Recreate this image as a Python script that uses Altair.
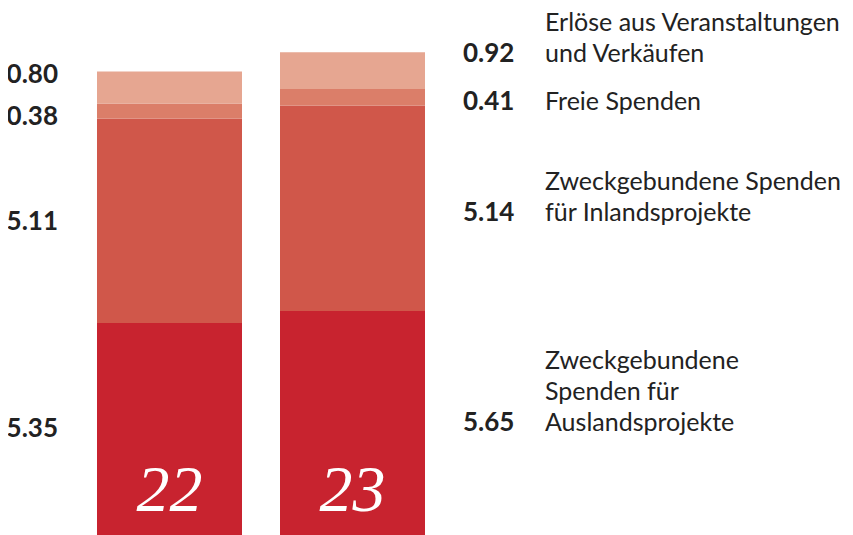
import altair as alt
import pandas as pd

years = ["22", "23"]
categories = [
    "Zweckgebundene Spenden für Auslandsprojekte",
    "Zweckgebundene Spenden für Inlandsprojekte",
    "Freie Spenden",
    "Erlöse aus Veranstaltungen und Verkäufen",
]
category_lines = [
    ["Zweckgebundene", "Spenden für", "Auslandsprojekte"],
    ["Zweckgebundene Spenden", "für Inlandsprojekte"],
    ["Freie Spenden"],
    ["Erlöse aus Veranstaltungen", "und Verkäufen"],
]
values_22 = [5.35, 5.11, 0.38, 0.80]
values_23 = [5.65, 5.14, 0.41, 0.92]
labels_22 = ["5.35", "5.11", "0.38", "0.80"]
labels_23 = ["5.65", "5.14", "0.41", "0.92"]
# label anchor positions (in value units) chosen to avoid overlaps
label_pos_22 = [2.69, 7.865, 10.51, 11.54]
label_pos_23 = [2.855, 8.11, 10.88, 12.085]
colors = ["#C8232F", "#D0574A", "#DB7E69", "#E6A691"]

rows = []
for yr, vals in zip(years, [values_22, values_23]):
    for i, (c, v) in enumerate(zip(categories, vals)):
        rows.append({"year": yr, "category": c, "order": i, "value": v})
bars_df = pd.DataFrame(rows)

left_df = pd.DataFrame({"label": labels_22, "pos": label_pos_22})
right_df = pd.DataFrame({
    "label": labels_23,
    "pos": label_pos_23,
    "text": category_lines,
    "nlines": [len(l) for l in category_lines],
})
year_df = pd.DataFrame({"year": years})

DOMAIN_MAX = 13.225
yscale = alt.Scale(domain=[0, DOMAIN_MAX], nice=False, zero=True)
xscale = alt.Scale(domain=years, range=[89, 417], paddingInner=0.2077, paddingOuter=0)

bars = alt.Chart(bars_df).mark_bar(size=145).encode(
    x=alt.X("year:N", scale=xscale, axis=None),
    y=alt.Y("sum(value):Q", scale=yscale, axis=None, stack="zero"),
    color=alt.Color("category:N", scale=alt.Scale(domain=categories, range=colors), legend=None),
    order=alt.Order("order:Q"),
)

FS = 26
FS_CAT = 25
LH = 31
TXT = "#222222"

left_text = alt.Chart(left_df).mark_text(
    font="Lato", fontSize=FS, fontWeight="bold", align="right", baseline="middle", color=TXT
).encode(
    x=alt.value(50),
    y=alt.Y("pos:Q", scale=yscale, axis=None),
    text="label:N",
)

right_num = alt.Chart(right_df).mark_text(
    font="Lato", fontSize=FS, fontWeight="bold", align="left", baseline="middle", color=TXT
).encode(
    x=alt.value(455),
    y=alt.Y("pos:Q", scale=yscale, axis=None),
    text="label:N",
)

cat_layers = []
for n in sorted(set(len(l) for l in category_lines)):
    cat_layers.append(
        alt.Chart(right_df).transform_filter(alt.datum.nlines == n).mark_text(
            font="Lato", fontSize=FS_CAT, align="left", baseline="bottom", color=TXT,
            lineHeight=LH, dy=13 - (n - 1) * LH,
        ).encode(
            x=alt.value(537),
            y=alt.Y("pos:Q", scale=yscale, axis=None),
            text="text",
        )
    )

year_text = alt.Chart(year_df).mark_text(
    font="Liberation Serif", fontSize=66, fontStyle="italic", color="white",
    align="center", baseline="middle",
).encode(
    x=alt.X("year:N", scale=xscale, axis=None, bandPosition=0.5),
    y=alt.value(483),
    text="year:N",
)

chart = alt.layer(bars, left_text, right_num, *cat_layers, year_text).properties(
    width=837, height=529, padding=0, autosize=alt.AutoSizeParams(type="none")
).configure_view(stroke=None)

chart.save("out.html", embed_options={"renderer": "svg", "actions": False})
